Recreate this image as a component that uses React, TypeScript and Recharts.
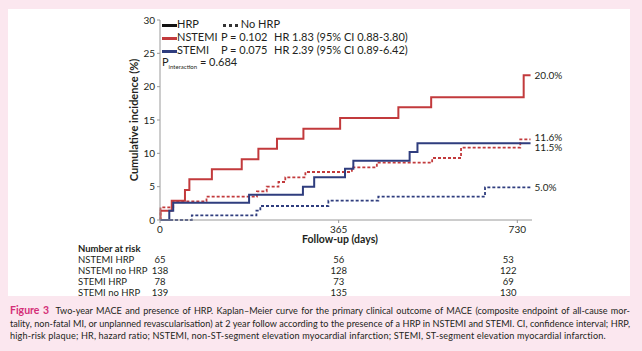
import { LabelList, Line, LineChart, XAxis, YAxis } from "recharts";

// Kaplan-Meier step points (days, cumulative incidence %)
const NSTEMI_HRP_DAY = [0, 1, 24, 51, 60, 106, 167, 201, 239, 293, 368, 487, 554, 743, 757];
const NSTEMI_HRP_PCT = [0, 1.4, 2.9, 4.5, 6.1, 7.6, 9.1, 10.7, 12.2, 13.7, 15.3, 16.9, 18.4, 21.7, 21.7];

const NSTEMI_NO_DAY = [0, 1, 27, 95, 198, 218, 242, 256, 297, 392, 443, 556, 615, 736, 757];
const NSTEMI_NO_PCT = [0, 1.9, 2.8, 3.5, 4.3, 5.0, 5.7, 6.4, 7.2, 7.9, 8.6, 9.3, 10.85, 12.1, 12.1];

const STEMI_HRP_DAY = [0, 19, 27, 182, 292, 315, 378, 395, 510, 526, 757];
const STEMI_HRP_PCT = [0, 1.4, 2.6, 3.8, 5.0, 6.4, 7.7, 8.9, 10.2, 11.5, 11.5];

const STEMI_NO_DAY = [0, 65, 197, 205, 344, 446, 664, 757];
const STEMI_NO_PCT = [0, 0.7, 1.4, 2.1, 2.9, 3.5, 4.9, 4.9];

const END_LABELS = ["20.0%", "11.6%", "11.5%", "5.0%"];

const X_TICKS = [0, 365, 730];
const Y_TICKS = [0, 5, 10, 15, 20, 25, 30];

const RISK_GROUPS = ["NSTEMI HRP", "NSTEMI no HRP", "STEMI HRP", "STEMI no HRP"];
const RISK_NSTEMI_HRP = [65, 56, 53];
const RISK_NSTEMI_NO = [138, 128, 122];
const RISK_STEMI_HRP = [78, 73, 69];
const RISK_STEMI_NO = [139, 135, 130];
const RISK_ROWS = [RISK_NSTEMI_HRP, RISK_NSTEMI_NO, RISK_STEMI_HRP, RISK_STEMI_NO];

const RED = "#c23a3c";
const BLUE = "#2f3d7e";
const INK = "#231f20";
const AXIS = "#9a9a9a";
const PINK = "#fbe7ef";
const FONT = "Lato, 'Open Sans', sans-serif";

const zip = (days: number[], pct: number[]) => days.map((d, i) => ({ d, v: pct[i] }));

const SERIES = [
  { key: "nh", data: zip(NSTEMI_HRP_DAY, NSTEMI_HRP_PCT), color: RED, dash: undefined, end: END_LABELS[0], dy: 0 },
  { key: "nn", data: zip(NSTEMI_NO_DAY, NSTEMI_NO_PCT), color: RED, dash: "3 2", end: END_LABELS[1], dy: -2.5 },
  { key: "sh", data: zip(STEMI_HRP_DAY, STEMI_HRP_PCT), color: BLUE, dash: undefined, end: END_LABELS[2], dy: 4 },
  { key: "sn", data: zip(STEMI_NO_DAY, STEMI_NO_PCT), color: BLUE, dash: "3 2", end: END_LABELS[3], dy: 0 },
];

function RiskTick(props: any) {
  const { x, y, payload } = props;
  const col = X_TICKS.indexOf(payload.value);
  const shift = col === 2 ? -9 : 0;
  const rowY = (r: number) => y + 34 + r * 11;
  return (
    <g fontFamily={FONT} fill={INK}>
      <text x={x} y={y + 4} textAnchor="middle" dominantBaseline="central" fontSize={10}>
        {payload.value}
      </text>
      {col === 0 && (
        <text x={78} y={y + 23} dominantBaseline="central" fontSize={9.5} fontWeight="bold">
          Number at risk
        </text>
      )}
      {col === 0 &&
        RISK_GROUPS.map((g, r) => (
          <text key={g} x={78} y={rowY(r)} dominantBaseline="central" fontSize={9.5}>
            {g}
          </text>
        ))}
      {RISK_ROWS.map((row, r) => (
        <text key={r} x={x + shift} y={rowY(r)} textAnchor="middle" dominantBaseline="central" fontSize={9.5}>
          {row[col]}
        </text>
      ))}
    </g>
  );
}

const Swatch = ({ color, dotted }: { color: string; dotted?: boolean }) => (
  <span
    style={{
      display: "inline-block",
      width: 15,
      height: 0,
      borderTop: dotted ? `3px dotted ${color}` : `3px solid ${color}`,
      verticalAlign: "middle",
    }}
  />
);

function Legend() {
  const row = (top: number) => ({ position: "absolute" as const, top: top - 7, height: 14, lineHeight: "14px" });
  return (
    <div style={{ position: "absolute", left: 0, top: 0, fontSize: 11, color: INK, fontFamily: FONT, whiteSpace: "nowrap" }}>
      <div style={{ ...row(24), left: 162 }}><Swatch color="#111" />HRP</div>
      <div style={{ ...row(24), left: 223 }}><Swatch color="#333" dotted /> No HRP</div>
      <div style={{ ...row(37), left: 162 }}><Swatch color={RED} />NSTEMI</div>
      <div style={{ ...row(37), left: 221 }}>P = 0.102</div>
      <div style={{ ...row(37), left: 274 }}>HR 1.83 (95% CI 0.88-3.80)</div>
      <div style={{ ...row(50), left: 162 }}><Swatch color={BLUE} />STEMI</div>
      <div style={{ ...row(50), left: 221 }}>P = 0.075</div>
      <div style={{ ...row(50), left: 274 }}>HR 2.39 (95% CI 0.89-6.42)</div>
      <div style={{ ...row(62), left: 162 }}>
        P<sub style={{ fontSize: 6, verticalAlign: "-3px" }}>interaction</sub> = 0.684
      </div>
    </div>
  );
}

function Caption() {
  const just = { textAlign: "justify" as const, textAlignLast: "justify" as const };
  return (
    <div
      style={{
        position: "absolute",
        left: 10,
        top: 304,
        width: 620,
        fontSize: 9.1,
        lineHeight: "12.5px",
        color: INK,
        fontFamily: FONT,
      }}
    >
      <div style={just}>
        <b style={{ color: "#d42f78", fontSize: 10.5 }}>Figure 3</b>&nbsp; Two-year MACE and presence of HRP. Kaplan–Meier
        curve for the primary clinical outcome of MACE (composite endpoint of all-cause mor-
      </div>
      <div style={just}>
        tality, non-fatal MI, or unplanned revascularisation) at 2 year follow according to the presence of a HRP in NSTEMI
        and STEMI. CI, confidence interval; HRP,
      </div>
      <div style={{ letterSpacing: 0.15 }}>
        high-risk plaque; HR, hazard ratio; NSTEMI, non-ST-segment elevation myocardial infarction; STEMI, ST-segment
        elevation myocardial infarction.
      </div>
    </div>
  );
}

export default function App() {
  return (
    <div style={{ position: "relative", width: 642, height: 351, background: PINK, overflow: "hidden", fontFamily: FONT }}>
      <style>{`body{margin:0}`}</style>
      <div style={{ position: "absolute", left: 8, top: 9, width: 622, height: 287, background: "#fff" }} />
      <div style={{ position: "absolute", left: 0, top: 0 }}>
        <LineChart width={642} height={296} margin={{ top: 20, right: 110, bottom: 0, left: 120 }}>
          <XAxis
            type="number"
            dataKey="d"
            domain={[0, 760]}
            ticks={X_TICKS}
            allowDuplicatedCategory={false}
            height={76}
            stroke={AXIS}
            tickSize={3}
            tick={<RiskTick />}
            label={{
              value: "Follow-up (days)",
              position: "insideTop",
              offset: 16,
              dx: -6,
              fill: INK,
              fontSize: 10.5,
              fontWeight: "bold",
              fontFamily: FONT,
            }}
          />
          <YAxis
            type="number"
            domain={[0, 30]}
            ticks={Y_TICKS}
            width={40}
            stroke={AXIS}
            tickSize={3}
            tick={{ fill: INK, fontSize: 10, fontFamily: FONT }}
            label={{
              value: "Cumulative incidence (%)",
              angle: -90,
              position: "insideLeft",
              offset: 14,
              style: { textAnchor: "middle" },
              fill: INK,
              fontSize: 11,
              fontWeight: "bold",
              fontFamily: FONT,
            }}
          />
          {SERIES.map((s) => (
            <Line
              key={s.key}
              data={s.data}
              dataKey="v"
              type="stepAfter"
              stroke={s.color}
              strokeWidth={s.dash ? 1.8 : 2}
              strokeDasharray={s.dash}
              dot={false}
              activeDot={false}
              isAnimationActive={false}
            >
              <LabelList
                dataKey="v"
                content={(p: any) =>
                  p.index === s.data.length - 1 ? (
                    <text
                      x={p.x + 4}
                      y={p.y + s.dy}
                      dominantBaseline="central"
                      fontSize={10}
                      fill={INK}
                      fontFamily={FONT}
                    >
                      {s.end}
                    </text>
                  ) : (
                    <g />
                  )
                }
              />
            </Line>
          ))}
        </LineChart>
      </div>
      <Legend />
      <Caption />
    </div>
  );
}
